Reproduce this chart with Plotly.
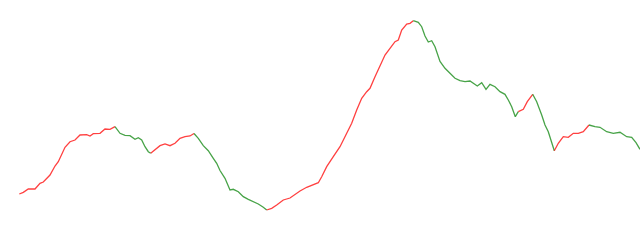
import plotly.graph_objects as go

# index (time step) and price values
t = [19.3, 23.3, 28.3, 35, 40, 43.3, 50, 55, 58.3, 61.7, 65, 70, 75, 80, 86.7, 90, 93.3, 100, 105, 110,
     115, 120, 125, 130, 135, 138.3, 141.7, 145, 148.3, 150.7, 155, 160, 165, 170, 175, 180, 185, 190,
     194, 198.3, 203.3, 208.3, 213.3, 216.7, 220, 225, 230, 233.3, 238.3, 243.3, 248.3, 253.3, 258.3,
     263.3, 266.7, 271.7, 276.7, 283.3, 290, 295, 300, 306.7, 313.3, 318.3, 321.7, 326.7, 333.3, 340,
     346.7, 351.7, 356.7, 361.7, 366.7, 370, 375, 380, 385, 390, 395, 398.3, 401.7, 406.7, 410, 413.3,
     418.3, 421.7, 425, 428.3, 431.7, 435, 440, 445, 450, 455, 460, 465, 470, 475, 477.3, 481.7, 486,
     490, 495, 500, 505, 508.3, 511.7, 515.3, 518.3, 523.3, 527.3, 532.7, 536.7, 541.7, 545, 548.3,
     551.7, 554.3, 558.3, 563.3, 568.3, 573.3, 578.3, 583.3, 589, 595, 600, 606.7, 613.3, 620, 626.7,
     631.7, 636, 640]
ypix = [194, 192.3, 189, 189, 183.3, 182, 175, 166, 161.7, 154.3, 147.3, 141.7, 140, 135, 134.7, 136,
        133.7, 133.3, 129, 129.3, 126.7, 133.3, 135.3, 135.7, 139.3, 137.7, 140, 146.7, 151.7, 153.3,
        150, 145.7, 144, 145.7, 143.3, 138.3, 136.7, 136, 133.5, 138.3, 145.7, 150.7, 158.3, 163.3,
        170.5, 178.3, 190, 189.3, 191.7, 196.7, 199.3, 201.7, 204, 207.3, 210, 208.3, 205, 200, 198,
        194.3, 191, 187.3, 185, 182.7, 176.7, 166.7, 156.7, 146.7, 133.3, 123.3, 110, 98.3, 91.7, 88.3,
        76.7, 65, 55, 48.3, 41.7, 40, 30, 24, 23.3, 20.7, 22.3, 26.7, 36, 42, 40.7, 46.7, 61.5, 68.3,
        73.3, 78.3, 80.7, 81.7, 81, 85, 86, 82.7, 89.3, 84.3, 86.7, 91.7, 94.3, 100, 106.7, 116.7,
        111.7, 109.3, 101.7, 94.3, 101.7, 115, 125, 131.7, 143.3, 150.7, 143.3, 136.7, 137.3, 133.3,
        133.3, 131.7, 125, 126.7, 127.3, 131.7, 133.3, 132.3, 136.7, 137.3, 142.7, 149.3]
price = [round(240 - v, 1) for v in ypix]
# swing points (indices into t) separating up/down legs
swings = [0, 20, 29, 38, 54, 83, 108, 111, 117, 124, len(t) - 1]

UP = "rgba(255,0,0,0.75)"
DOWN = "rgba(0,128,0,0.72)"

fig = go.Figure()
for a, b in zip(swings[:-1], swings[1:]):
    col = UP if price[b] > price[a] else DOWN
    fig.add_trace(go.Scatter(x=t[a:b + 1], y=price[a:b + 1], mode="lines",
                             line=dict(color=col, width=1.3), hoverinfo="skip",
                             showlegend=False))

fig.update_layout(width=640, height=240, margin=dict(l=0, r=0, t=0, b=0),
                  paper_bgcolor="white", plot_bgcolor="white")
fig.update_xaxes(range=[0, 640], visible=False)
fig.update_yaxes(range=[0, 240], visible=False)
fig.write_html("out.html")
